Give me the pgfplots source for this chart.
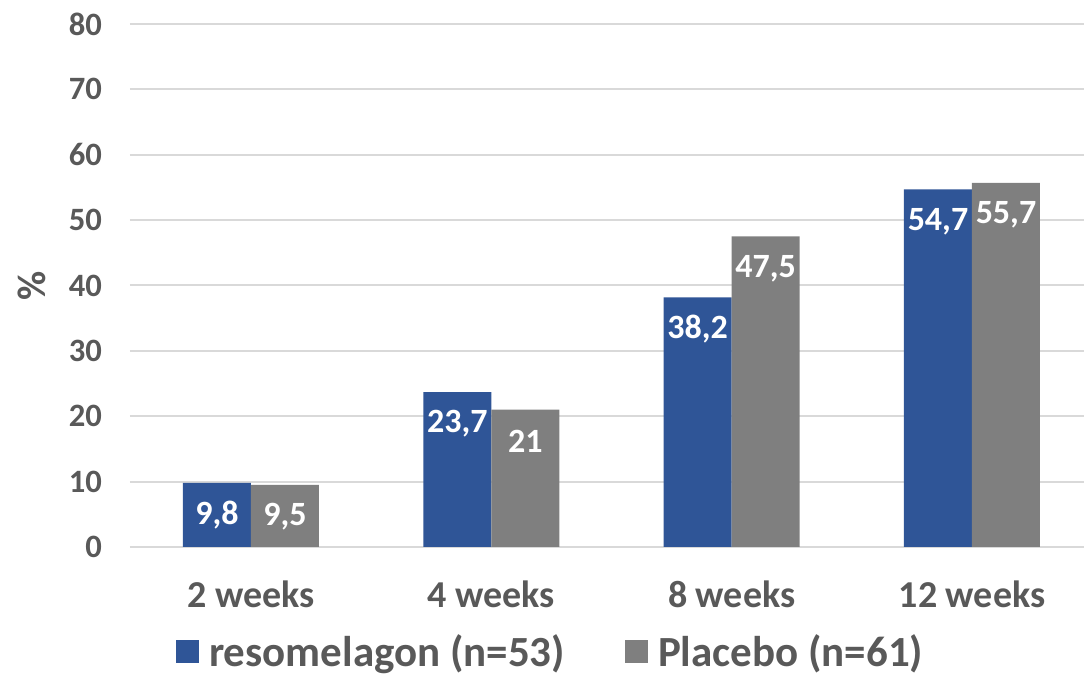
\documentclass[border=0pt]{standalone}
\usepackage{fontspec}
\setmainfont{Carlito}
\usepackage{pgfplots}
\pgfplotsset{compat=1.18}
\definecolor{cblue}{HTML}{2F5597}
\definecolor{cgray}{HTML}{7F7F7F}
\definecolor{ctext}{HTML}{595959}
\definecolor{cgrid}{HTML}{D9D9D9}
\begin{document}
\begin{tikzpicture}
\path[use as bounding box] (0,0) rectangle (542pt,337pt);
\begin{axis}[
  at={(65pt,63.5pt)}, anchor=south west,
  scale only axis, width=477pt, height=261.5pt,
  ybar=0pt, bar width=34pt,
  xmin=-0.503, xmax=3.466, ymin=0, ymax=80,
  axis line style={draw=none},
  ytick={0,10,...,80},
  ymajorgrids, grid style={cgrid, line width=1pt},
  xtick={0,1,2,3},
  xticklabels={2 weeks,4 weeks,8 weeks,12 weeks},
  major tick length=0pt,
  /pgf/number format/assume math mode=true,
  tick label style={font=\fontsize{16.3}{19}\selectfont\bfseries, text=ctext},
  xticklabel style={font=\fontsize{19}{23}\selectfont\bfseries, yshift=-13.5pt},
  yticklabel style={xshift=-10.5pt},
  ylabel={\%},
  ylabel style={at={(axis description cs:-0.103,0.5)}, anchor=center, font=\fontsize{20}{24}\selectfont\bfseries, text=ctext, rotate=0},
  nodes near coords,
  nodes near coords style={anchor=center, yshift=-16pt, text=white, font=\fontsize{17}{20}\selectfont\bfseries,
    /pgf/number format/.cd, use comma, fixed, precision=1, assume math mode=true},
  legend style={at={(0.442,-0.2)}, anchor=center, draw=none, fill=none,
    legend columns=2, font=\fontsize{21.5}{26}\selectfont\bfseries, text=ctext,
    /tikz/every even column/.append style={column sep=28pt}},
  legend image code/.code={\fill[#1] (0pt,-5.5pt) rectangle (11.5pt,6pt);},
  legend cell align=left,
]
\addplot[fill=cblue, draw=none] coordinates {(0,9.8) (1,23.7) (2,38.2) (3,54.7)};
\addplot[fill=cgray, draw=none] coordinates {(0,9.5) (1,21) (2,47.5) (3,55.7)};
\legend{\hspace{3pt}resomelagon (n=53), \hspace{3pt}Placebo (n=61)}
\end{axis}
\end{tikzpicture}
\end{document}
